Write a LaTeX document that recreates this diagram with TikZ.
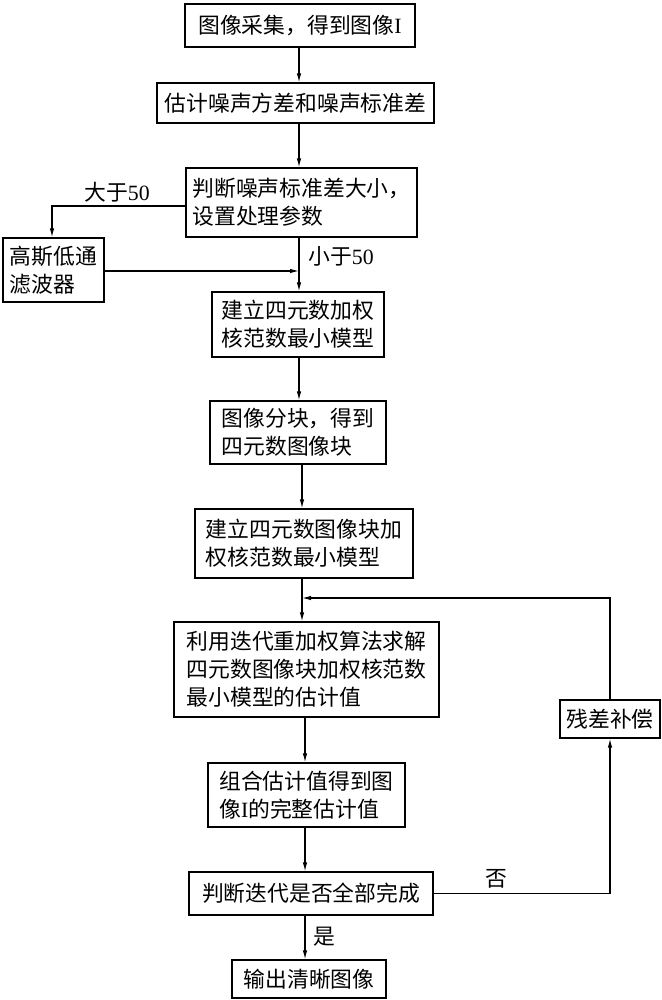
\documentclass[tikz,border=0pt]{standalone}
\usepackage{fontspec}
\setmainfont{Noto Sans CJK SC}
\newfontfamily\lat{Liberation Serif}
\usetikzlibrary{arrows.meta}
\tikzset{
  box/.style={draw, line width=1.2pt, inner sep=0pt, align=left, font=\fontsize{21.8}{28}\selectfont},
  lbl/.style={inner sep=0pt, font=\fontsize{21.8}{28}\selectfont},
  arr/.style={line width=1.2pt, -{Latex[length=9pt,width=4.5pt]}},
  ln/.style={line width=1.2pt}
}
\begin{document}
\begin{tikzpicture}[x=1pt,y=-1pt]
\useasboundingbox[fill=white] (0,0) rectangle (661,1000);
\node[box, minimum width=230pt, minimum height=43pt] (b1) at (300,25.5) {图像采集，得到图像{\lat I}};
\node[box, minimum width=277pt, minimum height=40pt] (b2) at (295.5,103) {估计噪声方差和噪声标准差};
\node[box, minimum width=231pt, minimum height=69pt] (b3) at (301.5,202.5) {判断噪声标准差大小，\\设置处理参数};
\node[box, minimum width=101pt, minimum height=64pt] (g) at (53.5,270) {高斯低通\\滤波器};
\node[box, minimum width=172pt, minimum height=65pt] (b4) at (298,324.5) {建立四元数加权\\核范数最小模型};
\node[box, minimum width=176pt, minimum height=63pt] (b5) at (298,432.5) {图像分块，得到\\四元数图像块};
\node[box, minimum width=218pt, minimum height=69pt] (b6) at (304,543.5) {建立四元数图像块加\\权核范数最小模型};
\node[box, minimum width=265pt, minimum height=95pt] (b7) at (306.5,669.5) {利用迭代重加权算法求解\\四元数图像块加权核范数\\最小模型的估计值};
\node[box, minimum width=100pt, minimum height=38pt] (r) at (610,719) {残差补偿};
\node[box, minimum width=197pt, minimum height=64pt] (b8) at (306.5,795) {组合估计值得到图\\像{\lat I}的完整估计值};
\node[box, minimum width=244pt, minimum height=43pt] (b9) at (311,893.5) {判断迭代是否全部完成};
\node[box, minimum width=154pt, minimum height=38pt] (b10) at (309,979) {输出清晰图像};

\coordinate (x1) at (299,0);
\coordinate (x2) at (302,0);
\coordinate (x3) at (305,0);
\coordinate (j1) at (299,271);
\coordinate (j2) at (302,598);
\coordinate (rx) at (610,0);

\draw[arr] (b1.south -| x1) -- (b2.north -| x1);
\draw[arr] (b2.south -| x1) -- (b3.north -| x1);
\draw[arr] (b3.south -| x1) -- (b4.north -| x1);
\draw[arr] (b4.south -| x1) -- (b5.north -| x1);
\draw[arr] (b5.south -| x2) -- (b6.north -| x2);
\draw[arr] (b6.south -| x2) -- (b7.north -| x2);
\draw[arr] (b7.south -| x3) -- (b8.north -| x3);
\draw[arr] (b8.south -| x3) -- (b9.north -| x3);
\draw[arr] (b9.south -| x3) -- (b10.north -| x3);

\coordinate (lt) at (52,206);
\draw[arr] (b3.west |- lt) -- (lt) -- (g.north -| lt);
\draw[arr] (g.east |- j1) -- (j1);
\draw[arr] (r.north) -- (r.north |- j2) -- (j2);
\draw[arr] (b9.east) -- (b9.east -| rx) -- (r.south);

\node[lbl] (l1) at (117,192) {大于{\lat 50}};
\node[lbl] (l2) at (341,256) {小于{\lat 50}};
\node[lbl] (l3) at (496,879) {否};
\node[lbl] (l4) at (324,937) {是};
\end{tikzpicture}
\end{document}
